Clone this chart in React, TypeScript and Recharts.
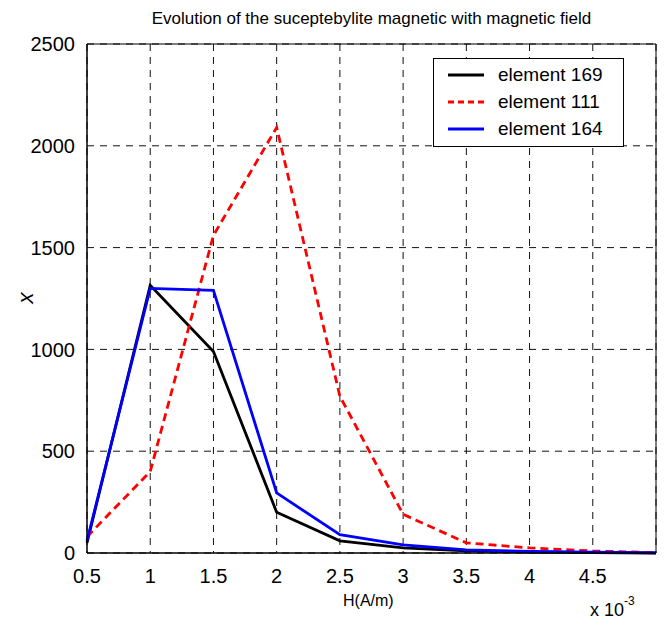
import { LineChart, Line, XAxis, YAxis, CartesianGrid, ReferenceLine } from "recharts";

// H values (x 10^-3 A/m)
const fieldH = [0.5, 1, 1.5, 2, 2.5, 3, 3.5, 4, 4.5, 5];
const element169 = [50, 1315, 990, 200, 60, 25, 10, 5, 2, 0];
const element111 = [80, 400, 1560, 2090, 770, 190, 50, 25, 10, 2];
const element164 = [60, 1300, 1290, 295, 90, 40, 15, 8, 4, 1];

const xTicks = [0.5, 1, 1.5, 2, 2.5, 3, 3.5, 4, 4.5];
const yTicks = [0, 500, 1000, 1500, 2000, 2500];

const data = fieldH.map((h, i) => ({
  h,
  e169: element169[i],
  e111: element111[i],
  e164: element164[i],
}));

const series = [
  { key: "e169", name: "element 169", color: "#000000", dash: undefined },
  { key: "e111", name: "element 111", color: "#ff0000", dash: "8 5" },
  { key: "e164", name: "element 164", color: "#0000ff", dash: undefined },
];

const font = "'Liberation Sans', Arial, sans-serif";
const tickStyle = { fontSize: 20, fill: "#000", fontFamily: font };

const LegendBox = () => (
  <div
    style={{
      position: "absolute", top: 58, left: 433, width: 189, height: 85,
      border: "1px solid #000", background: "#fff",
      fontFamily: font, fontSize: 19, paddingTop: 2, zIndex: 2,
    }}
  >
    {series.map((s) => (
      <div key={s.key} style={{ display: "flex", alignItems: "center", height: 27 }}>
        <svg width={64} height={10}>
          <line x1={14} y1={5} x2={50} y2={5} stroke={s.color} strokeWidth={3} strokeDasharray={s.dash ? "6 4" : undefined} />
        </svg>
        <span>{s.name}</span>
      </div>
    ))}
  </div>
);

const App = () => {
  return (
    <div style={{ position: "absolute", left: 0, top: 0, width: 666, height: 626, background: "#fff" }}>
      <div
        style={{
          position: "absolute", top: 9, left: 87, width: 569, textAlign: "center",
          fontFamily: font, fontSize: 17, color: "#000",
        }}
      >
        Evolution of the suceptebylite magnetic with magnetic field
      </div>
      <div
        style={{
          position: "absolute", top: 285, left: 20, transform: "rotate(-90deg)",
          fontFamily: font, fontSize: 22, fontStyle: "italic", color: "#000",
        }}
      >
        x
      </div>
      <div style={{ position: "absolute", top: 592, left: 343, fontFamily: font, fontSize: 16, color: "#000" }}>
        H(A/m)
      </div>
      <div style={{ position: "absolute", top: 598, left: 590, fontFamily: font, fontSize: 18, color: "#000" }}>
        x 10<sup style={{ fontSize: 12, position: "relative", top: -4 }}>-3</sup>
      </div>
      <LineChart width={666} height={626} data={data} margin={{ top: 44, right: 10, bottom: 0, left: 0 }}>
        <CartesianGrid stroke="#111" strokeDasharray="7 6" />
        <XAxis
          dataKey="h"
          type="number"
          domain={[0.5, 5]}
          ticks={xTicks}
          height={73}
          tick={tickStyle}
          tickLine={false}
          tickMargin={10}
          axisLine={{ stroke: "#000", strokeWidth: 1.5 }}
        />
        <YAxis
          type="number"
          domain={[0, 2500]}
          ticks={yTicks}
          width={87}
          tick={tickStyle}
          tickLine={false}
          tickMargin={6}
          axisLine={{ stroke: "#000", strokeWidth: 1.5 }}
        />
        <ReferenceLine y={2500} stroke="#000" strokeWidth={1} />
        <ReferenceLine x={5} stroke="#000" strokeWidth={1} />
        {series.map((s) => (
          <Line
            key={s.key}
            dataKey={s.key}
            name={s.name}
            type="linear"
            stroke={s.color}
            strokeWidth={2.8}
            strokeDasharray={s.dash}
            dot={false}
            activeDot={false}
            isAnimationActive={false}
          />
        ))}
      </LineChart>
      <LegendBox />
    </div>
  );
};

export default App;
